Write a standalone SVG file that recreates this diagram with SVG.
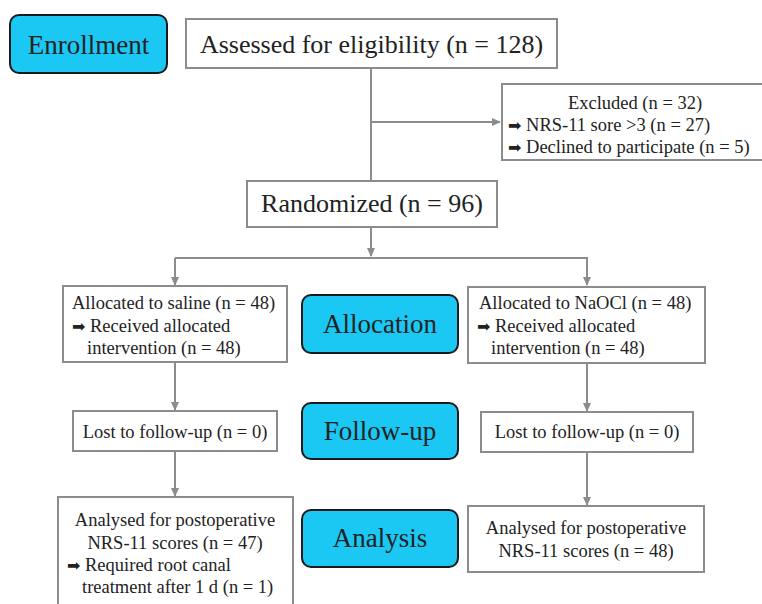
<svg xmlns="http://www.w3.org/2000/svg" width="762" height="604" viewBox="0 0 762 604">
<style>
.stage{fill:#1BC8F4;stroke:#1a1a1a;stroke-width:2}
.box{fill:#fff;stroke:#8c8c8c;stroke-width:2}
.big{font-size:27px;text-anchor:middle}
.mid{font-size:26px;text-anchor:middle}
.sm{font-size:18.5px}
.c{text-anchor:middle}
.ar{font-family:'DejaVu Sans',sans-serif;font-size:16px}
.ln{fill:none;stroke:#8c8c8c;stroke-width:2}
</style>
<defs>
<marker id="ah" markerWidth="10" markerHeight="10" refX="8" refY="5" orient="auto" markerUnits="userSpaceOnUse">
<path d="M0,1 L9,5 L0,9 z" fill="#8c8c8c"/>
</marker>
</defs>
<g id="connectors">
<path class="ln" d="M371,68 V181"/>
<path class="ln" d="M371,122 H500" marker-end="url(#ah)"/>
<path class="ln" d="M371,227 V256" marker-end="url(#ah)"/>
<path class="ln" d="M175,258 H587 V285" marker-end="url(#ah)"/>
<path class="ln" d="M175,258 V285" marker-end="url(#ah)"/>
<path class="ln" d="M175,362 V410" marker-end="url(#ah)"/>
<path class="ln" d="M587,363 V411" marker-end="url(#ah)"/>
<path class="ln" d="M175,451 V496" marker-end="url(#ah)"/>
<path class="ln" d="M587,452 V505" marker-end="url(#ah)"/>
</g>
<g font-family="Liberation Serif, Times New Roman, serif" fill="#222">
<g id="enrollment">
<rect class="stage" x="10" y="15" width="157" height="58" rx="9"/>
<text class="big" x="88.5" y="54">Enrollment</text>
</g>
<g id="assessed">
<rect class="box" x="186" y="19" width="371" height="49"/>
<text class="mid" x="371.5" y="53">Assessed for eligibility (n = 128)</text>
</g>
<g id="excluded">
<rect class="box" x="502" y="84" width="262" height="76"/>
<text class="sm c" x="635" y="109">Excluded (n = 32)</text>
<text class="sm" x="508" y="131"><tspan class="ar">➡</tspan> NRS-11 sore &gt;3 (n = 27)</text>
<text class="sm" x="508" y="153"><tspan class="ar">➡</tspan> Declined to participate (n = 5)</text>
</g>
<g id="randomized">
<rect class="box" x="247" y="181" width="250" height="46"/>
<text class="mid" x="372" y="212">Randomized (n = 96)</text>
</g>
<g id="saline">
<rect class="box" x="63" y="286" width="224" height="76"/>
<text class="sm" x="72" y="309">Allocated to saline (n = 48)</text>
<text class="sm" x="72" y="332"><tspan class="ar">➡</tspan> Received allocated</text>
<text class="sm" x="87" y="354">intervention (n = 48)</text>
</g>
<g id="allocation">
<rect class="stage" x="302" y="295" width="156" height="58" rx="9"/>
<text class="big" x="380" y="333">Allocation</text>
</g>
<g id="naocl">
<rect class="box" x="468" y="287" width="237" height="76"/>
<text class="sm" x="479" y="309">Allocated to NaOCl (n = 48)</text>
<text class="sm" x="477" y="332"><tspan class="ar">➡</tspan> Received allocated</text>
<text class="sm" x="491" y="354">intervention (n = 48)</text>
</g>
<g id="lost-saline">
<rect class="box" x="73" y="411" width="204" height="40"/>
<text class="sm c" x="175" y="438">Lost to follow-up (n = 0)</text>
</g>
<g id="followup">
<rect class="stage" x="302" y="403" width="156" height="56" rx="9"/>
<text class="big" x="380" y="440">Follow-up</text>
</g>
<g id="lost-naocl">
<rect class="box" x="481" y="412" width="212" height="40"/>
<text class="sm c" x="587" y="438">Lost to follow-up (n = 0)</text>
</g>
<g id="analysed-saline">
<rect class="box" x="58" y="497" width="235" height="112"/>
<text class="sm c" x="175" y="526">Analysed for postoperative</text>
<text class="sm c" x="175" y="549">NRS-11 scores (n = 47)</text>
<text class="sm" x="67" y="571"><tspan class="ar">➡</tspan> Required root canal</text>
<text class="sm" x="82" y="593">treatment after 1 d (n = 1)</text>
</g>
<g id="analysis">
<rect class="stage" x="302" y="510" width="156" height="57" rx="9"/>
<text class="big" x="380" y="547">Analysis</text>
</g>
<g id="analysed-naocl">
<rect class="box" x="468" y="506" width="236" height="66"/>
<text class="sm c" x="586" y="534">Analysed for postoperative</text>
<text class="sm c" x="586" y="557">NRS-11 scores (n = 48)</text>
</g>
</g>
</svg>
